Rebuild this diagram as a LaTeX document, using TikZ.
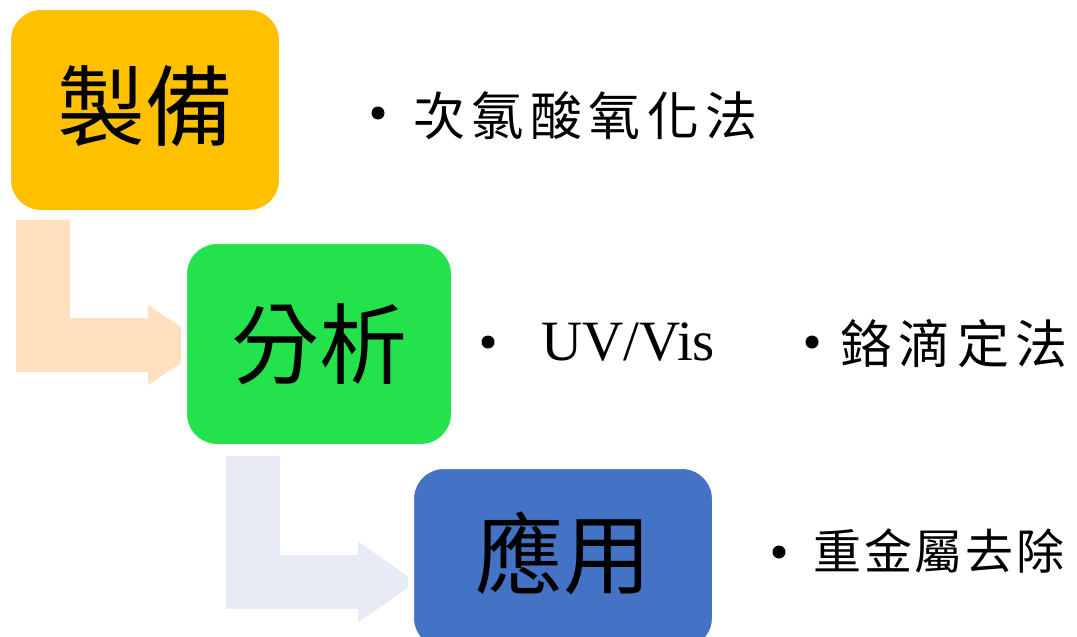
\documentclass[tikz,border=0pt]{standalone}
\usepackage{fontspec}
\setmainfont{Liberation Serif}
\newfontfamily\cjk{Noto Sans CJK TC}
\newfontfamily\cjkwide[LetterSpace=12.5]{Noto Sans CJK TC}
\newfontfamily\cjkmid[LetterSpace=6]{Noto Sans CJK TC}
\usetikzlibrary{arrows.meta}
\pgfdeclarelayer{background}
\pgfsetlayers{background,main}
\definecolor{boxA}{HTML}{FFC000}
\definecolor{boxB}{HTML}{23E24B}
\definecolor{boxC}{HTML}{4472C4}
\definecolor{arrA}{HTML}{FFE0BF}
\definecolor{arrB}{HTML}{E8EAF5}
\tikzset{
  stage/.style={rectangle, rounded corners=33pt, draw=white, line width=6pt,
    inner sep=0pt, font=\cjk\fontsize{88}{100}\selectfont,
    text height=73pt, text depth=6pt},
  flow/.style={line width=54pt, line join=miter},
  dot/.style={circle, fill=black, minimum size=13pt, inner sep=0pt},
  item/.style={anchor=base west, inner sep=0pt},
}
\begin{document}
\begin{tikzpicture}[x=1pt,y=-1pt]
\useasboundingbox (0,0) rectangle (1077,637);
\clip (0,0) rectangle (1077,637);
\begin{pgfonlayer}{background}
\fill[white] (0,0) rectangle (1077,637);
\end{pgfonlayer}
\node[stage, fill=boxA, minimum width=274pt, minimum height=206pt, text height=65pt] (b1) at (145,110) {製備};
\node[stage, fill=boxB, minimum width=270pt, minimum height=206pt] (b2) at (319,344) {分析};
\node[stage, fill=boxC, minimum width=304pt, minimum height=185pt, text height=63pt] (b3) at (563,558.5) {應用};
\begin{pgfonlayer}{background}
\draw[flow, arrA, -{Triangle[length=60pt,width=80pt,line width=0pt]}]
  ([xshift=-102pt,yshift=-4pt]b1.south) |- ([xshift=27pt,yshift=-1pt]b2.west);
\draw[flow, arrB, -{Triangle[length=58pt,width=81pt,line width=0pt]}]
  ([xshift=-66pt,yshift=-6pt]b2.south) |- ([xshift=8pt,yshift=-23.5pt]b3.west);
\end{pgfonlayer}
\node[dot] (d1) at (378,113) {};
\node[item, font=\cjkwide\fontsize{52}{60}\selectfont] (t1) at (413,135) {次氯酸氧化法};
\node[dot] (d2) at (488,342) {};
\node[item, font=\fontsize{57}{66}\selectfont] (t2) at (541,360) {UV/Vis};
\node[dot] (d3) at (812,342) {};
\node[item, font=\cjkwide\fontsize{52}{60}\selectfont] (t3) at (840,363) {鉻滴定法};
\node[dot] (d4) at (779,552) {};
\node[item, font=\cjkmid\fontsize{48}{56}\selectfont] (t4) at (813,569) {重金屬去除};
\end{tikzpicture}
\end{document}
